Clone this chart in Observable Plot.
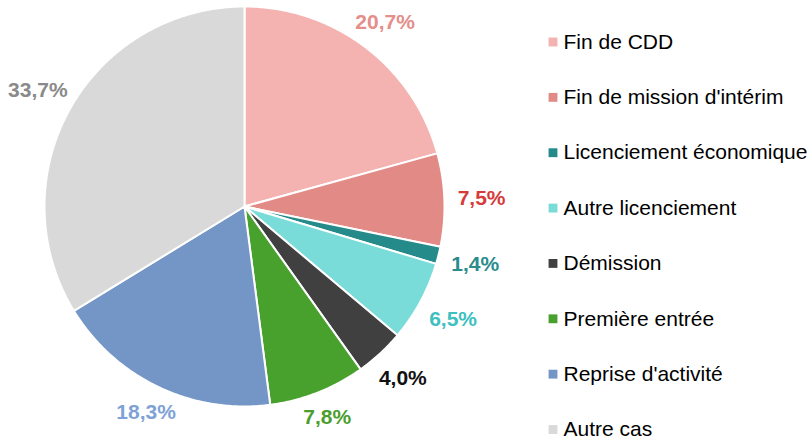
<!DOCTYPE html>
<html>
<head>
<meta charset="utf-8">
<script src="https://cdn.jsdelivr.net/npm/d3@7"></script>
<script src="https://cdn.jsdelivr.net/npm/@observablehq/plot@0.6"></script>
<style>
  html, body { margin: 0; padding: 0; background: #fff; }
  #chart svg { display: block; }
</style>
</head>
<body>
<div id="chart"></div>
<script>
const categories = ["Fin de CDD", "Fin de mission d'intérim", "Licenciement économique", "Autre licenciement", "Démission", "Première entrée", "Reprise d'activité", "Autre cas"];
const values = [20.7, 7.5, 1.4, 6.5, 4.0, 7.8, 18.3, 33.7];
const sliceColors = ["#F4B3B1", "#E28A86", "#258A8A", "#7ADCD9", "#404040", "#48A12D", "#7496C7", "#D9D9D9"];
const labelColors = ["#E58E8A", "#D63B3B", "#2A8C8C", "#3EC0C0", "#111111", "#4A9E2E", "#7EA2D6", "#8A8A8A"];
const valueLabels = ["20,7%", "7,5%", "1,4%", "6,5%", "4,0%", "7,8%", "18,3%", "33,7%"];

// geometry (pixels)
const W = 812, H = 441, cx = 244, cy = 206, R = 200;
const font = "'Liberation Sans', Arial, sans-serif";

const pie = d3.pie().sort(null).value(d => d.value).startAngle(0).endAngle(2 * Math.PI);
const arcs = pie(categories.map((c, i) => ({cat: c, value: values[i], i})));

// polygon points in unit coordinates (radius 1)
const pts = [];
arcs.forEach(a => {
  const cat = a.data.cat;
  pts.push({cat, x: 0, y: 0});
  const n = Math.max(2, Math.ceil((a.endAngle - a.startAngle) / 0.01));
  for (let k = 0; k <= n; k++) {
    const t = a.startAngle + (a.endAngle - a.startAngle) * k / n;
    pts.push({cat, x: Math.sin(t), y: Math.cos(t)});
  }
  pts.push({cat, x: 0, y: 0});
});

// outside-end labels
const lw = 27 / R, lh = 7 / R, gap = 10 / R;
const labels = arcs.map(a => {
  const m = (a.startAngle + a.endAngle) / 2;
  const s = Math.sin(m), c = Math.cos(m);
  const d = 1 + gap + Math.abs(s) * lw + Math.abs(c) * lh;
  return {text: valueLabels[a.data.i], color: labelColors[a.data.i], x: s * d, y: c * d};
});

// legend rows
const legend = categories.map((c, i) => ({
  cat: c,
  color: sliceColors[i],
  y: (cy - (41.5 + 55.36 * i)) / R
}));
const legSqX = (552.5 - cx) / R, legTxtX = (563 - cx) / R;

const chart = Plot.plot({
  width: W,
  height: H,
  marginLeft: cx - R,
  marginRight: W - (cx + R),
  marginTop: cy - R,
  marginBottom: H - (cy + R),
  x: {domain: [-1, 1], axis: null},
  y: {domain: [-1, 1], axis: null},
  color: {domain: categories, range: sliceColors},
  style: {fontFamily: font, background: "#fff"},
  marks: [
    Plot.line(pts, {x: "x", y: "y", z: "cat", fill: "cat", stroke: "white", strokeWidth: 2, strokeLinejoin: "round"}),
    Plot.text(labels, {x: "x", y: "y", text: "text", fill: "color", fontSize: 21, fontWeight: "bold", textAnchor: "middle", lineAnchor: "middle"}),
    Plot.dot(legend, {x: () => legSqX, y: "y", symbol: "square", r: 5, fill: "color", stroke: null}),
    Plot.text(legend, {x: () => legTxtX, y: "y", text: "cat", fill: "#000", fontSize: 21, textAnchor: "start", lineAnchor: "middle"})
  ]
});
document.getElementById("chart").appendChild(chart);
</script>
</body>
</html>
